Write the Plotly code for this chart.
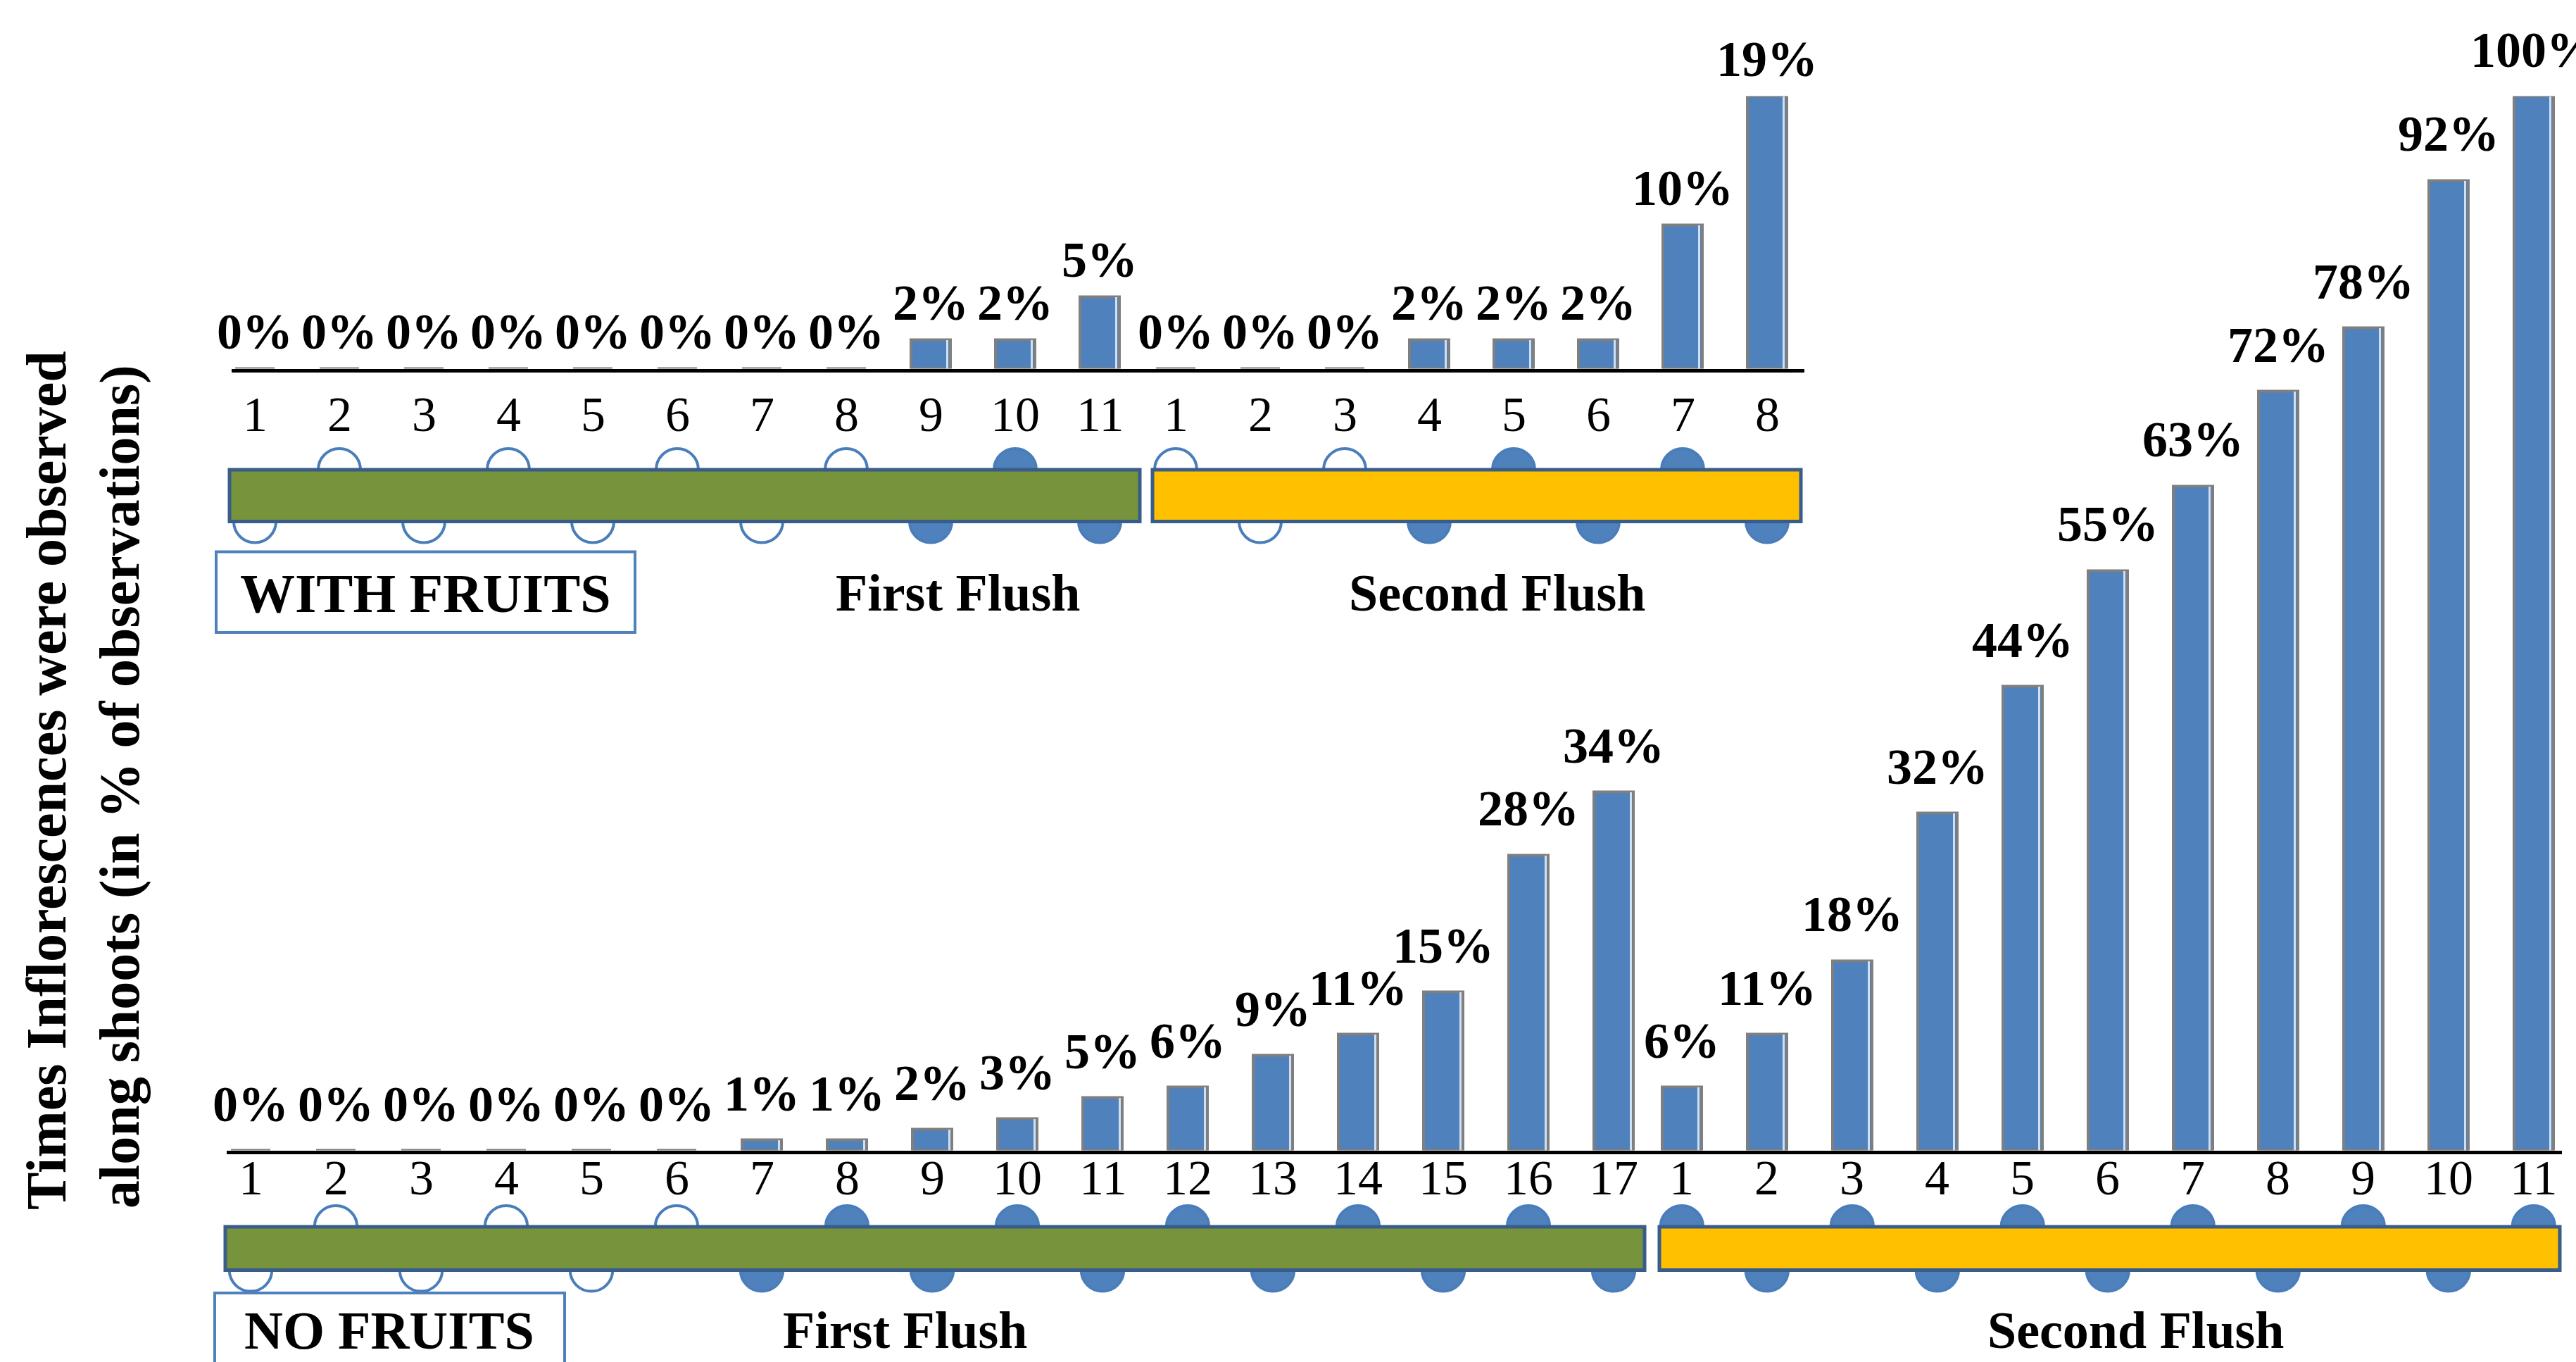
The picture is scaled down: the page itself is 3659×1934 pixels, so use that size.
import plotly.graph_objects as go

W, H = 3659, 1934

# Percent of shoots with inflorescences at each node position
top_first_vals = [0, 0, 0, 0, 0, 0, 0, 0, 2, 2, 5]
top_second_vals = [0, 0, 0, 2, 2, 2, 10, 19]
bot_first_vals = [0, 0, 0, 0, 0, 0, 1, 1, 2, 3, 5, 6, 9, 11, 15, 28, 34]
bot_second_vals = [6, 11, 18, 32, 44, 55, 63, 72, 78, 92, 100]

# Node numbers shown under the bars
top_first_nodes = ["1", "2", "3", "4", "5", "6", "7", "8", "9", "10", "11"]
top_second_nodes = ["1", "2", "3", "4", "5", "6", "7", "8"]
bot_first_nodes = ["1", "2", "3", "4", "5", "6", "7", "8", "9", "10", "11",
                   "12", "13", "14", "15", "16", "17"]
bot_second_nodes = ["1", "2", "3", "4", "5", "6", "7", "8", "9", "10", "11"]

panel_titles = ["WITH FRUITS", "NO FRUITS"]
flush_names = ["First Flush", "Second Flush"]

BLUE = "#4f81bd"
BAR_EDGE = "#7f7f7f"
BAR_SHINE = "#cfe0f3"
NODE_EDGE = "#4a7ebb"
STRIP_EDGE = "#385d8a"
GREEN = "#77933c"
ORANGE = "#ffc000"
SERIF = "Liberation Serif, Times New Roman, serif"
BAR_W = 0.46


def px(x):
    return x / W


def py(y):
    return 1 - y / H


# pixel geometry of each panel
panels = [
    dict(first=top_first_vals, second=top_second_vals,
         first_lab=top_first_nodes, second_lab=top_second_nodes,
         gap=0.9, x_px=(329, 2563), unit=120, first_px=362,
         base_px=523.5, top_px=136.6, tick_y=589, label_shift=11,
         strip_px=(667, 740.5), green_px=(326, 1619), orange_px=(1637, 2558),
         box_px=(307, 783.6, 902, 898), label_y=842, title_size=78,
         flush_x=(1360, 2127), title_x=604),
    dict(first=bot_first_vals, second=bot_second_vals,
         first_lab=bot_first_nodes, second_lab=bot_second_nodes,
         gap=0.8, x_px=(322, 3639), unit=121, first_px=356,
         base_px=1633.6, top_px=136.6, tick_y=1672, label_shift=24,
         strip_px=(1742, 1803.6), green_px=(320, 2336), orange_px=(2357, 3636),
         box_px=(305, 1836, 802, 1945), label_y=1889, title_size=76,
         flush_x=(1285, 3034), title_x=553),
]

fig = go.Figure()
shapes = []
annotations = []

for i, p in enumerate(panels):
    n1 = len(p["first"])
    pos_first = [k + 1 for k in range(n1)]
    pos_second = [n1 + p["gap"] + k for k in range(len(p["second"]))]
    xs = pos_first + pos_second
    vals = p["first"] + p["second"]
    labels = p["first_lab"] + p["second_lab"]

    xa = "x" if i == 0 else "x2"
    ya = "y" if i == 0 else "y2"

    fig.add_trace(go.Bar(
        x=xs, y=vals, width=BAR_W,
        marker=dict(color=BLUE, line=dict(color=BAR_EDGE, width=4)),
        xaxis=xa, yaxis=ya, showlegend=False, hoverinfo="skip",
    ))
    # light highlight along the right inner edge of each bar
    fig.add_trace(go.Bar(
        x=xs, y=vals, width=0.025, offset=BAR_W / 2 - 0.043,
        marker=dict(color=BAR_SHINE, line=dict(width=0)),
        xaxis=xa, yaxis=ya, showlegend=False, hoverinfo="skip",
    ))

    # percentage labels above each bar
    for xv, v in zip(xs, vals):
        annotations.append(dict(
            text=f"{v}%", x=xv, y=v, xref=xa, yref=ya, showarrow=False,
            xanchor="center", yanchor="bottom", yshift=p["label_shift"],
            font=dict(family=SERIF, size=72, color="black", weight="bold"),
        ))
    # node numbers under the axis line
    for xv, lab in zip(xs, labels):
        annotations.append(dict(
            text=lab, x=xv, y=py(p["tick_y"]), xref=xa, yref="paper",
            showarrow=False, xanchor="center", yanchor="middle",
            font=dict(family=SERIF, size=70, color="black"),
        ))

    x0p, x1p = p["x_px"]
    rng = [1 + (x0p - p["first_px"]) / p["unit"], 1 + (x1p - p["first_px"]) / p["unit"]]
    xkey = "xaxis" if i == 0 else "xaxis2"
    ykey = "yaxis" if i == 0 else "yaxis2"
    fig.update_layout(**{
        xkey: dict(domain=[px(x0p), px(x1p)], range=rng, anchor=ya,
                   showline=True, linecolor="black", linewidth=5,
                   showgrid=False, zeroline=False, ticks="",
                   showticklabels=False),
        ykey: dict(domain=[py(p["base_px"]), py(p["top_px"])],
                   range=[0, max(vals)], anchor=xa,
                   showline=False, showgrid=False, zeroline=False,
                   showticklabels=False, ticks=""),
    })

    # inflorescence nodes: alternating above/below the shoot strip,
    # filled where inflorescences were observed
    s_top, s_bot = p["strip_px"]
    half_h = 30
    for flush_idx, (positions, fvals) in enumerate(((pos_first, p["first"]),
                                                   (pos_second, p["second"]))):
        for k, (xpos, v) in enumerate(zip(positions, fvals)):
            odd = (k + 1) % 2 == 1
            above = (not odd) if flush_idx == 0 else odd
            cy = s_top if above else s_bot
            filled = v > 0
            shapes.append(dict(
                type="circle", xref=xa, yref="paper",
                x0=xpos - 0.25, x1=xpos + 0.25,
                y0=py(cy + half_h), y1=py(cy - half_h),
                fillcolor=BLUE if filled else "white",
                line=dict(color=NODE_EDGE, width=4), layer="above",
            ))

    # shoot strips for the two flushes
    for (a, b), col in ((p["green_px"], GREEN), (p["orange_px"], ORANGE)):
        shapes.append(dict(
            type="rect", xref="paper", yref="paper",
            x0=px(a), x1=px(b), y0=py(s_bot), y1=py(s_top),
            fillcolor=col, line=dict(color=STRIP_EDGE, width=5), layer="above",
        ))

    # boxed panel title
    bx0, by0, bx1, by1 = p["box_px"]
    shapes.append(dict(
        type="rect", xref="paper", yref="paper",
        x0=px(bx0), x1=px(bx1), y0=py(by1), y1=py(by0),
        fillcolor="rgba(0,0,0,0)", line=dict(color=BLUE, width=4), layer="above",
    ))
    annotations.append(dict(
        text=panel_titles[i], x=px(p["title_x"]), y=py(p["label_y"]),
        xref="paper", yref="paper", showarrow=False,
        xanchor="center", yanchor="middle",
        font=dict(family=SERIF, size=p["title_size"], color="black", weight="bold"),
    ))
    for name, fx in zip(flush_names, p["flush_x"]):
        annotations.append(dict(
            text=name, x=px(fx), y=py(p["label_y"]),
            xref="paper", yref="paper", showarrow=False,
            xanchor="center", yanchor="middle",
            font=dict(family=SERIF, size=74, color="black", weight="bold"),
        ))

# vertical axis title in two lines
for txt, cx, cy in (("Times Inflorescences were observed", 66, 1108),
                    ("along shoots (in % of observations)", 170, 1117)):
    annotations.append(dict(
        text=txt, x=px(cx), y=py(cy), xref="paper", yref="paper",
        showarrow=False, textangle=-90, xanchor="center", yanchor="middle",
        font=dict(family=SERIF, size=80, color="black", weight="bold"),
    ))

fig.update_layout(
    width=W, height=H, autosize=False,
    margin=dict(l=0, r=0, t=0, b=0),
    paper_bgcolor="white", plot_bgcolor="rgba(0,0,0,0)",
    shapes=shapes, annotations=annotations, barmode="overlay", bargap=0,
)

fig.write_html("out.html")
